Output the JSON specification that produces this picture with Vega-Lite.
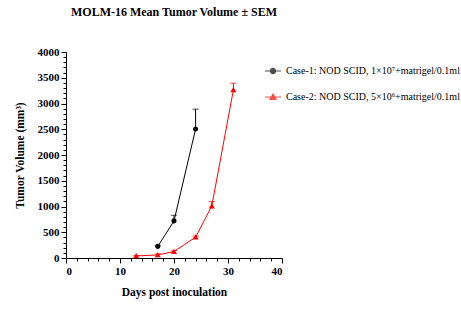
{
  "$schema": "https://vega.github.io/schema/vega-lite/v6.json",
  "autosize": "none",
  "width": 216,
  "height": 206,
  "padding": {"left": 66, "top": 52, "right": 179, "bottom": 65},
  "background": "white",
  "config": {
    "view": {"stroke": null},
    "font": "Liberation Serif",
    "axis": {"grid": false, "domainColor": "black", "tickColor": "black", "labelColor": "black", "titleColor": "black", "labelFont": "Liberation Serif", "titleFont": "Liberation Serif", "labelFontWeight": "bold", "titleFontWeight": "bold", "labelFontSize": 11, "titleFontSize": 11.5, "domainWidth": 1, "tickWidth": 1, "labelOverlap": false}
  },
  "title": {"text": "MOLM-16 Mean Tumor Volume ± SEM", "font": "Liberation Serif", "fontSize": 12, "fontWeight": "bold", "color": "black", "anchor": "middle", "offset": 27},
  "data": {"values": [
    {"series": "Case-1: NOD SCID, 1×10⁷+matrigel/0.1ml", "day": 17, "mean": 225, "upper": 245},
    {"series": "Case-1: NOD SCID, 1×10⁷+matrigel/0.1ml", "day": 20, "mean": 720, "upper": 830},
    {"series": "Case-1: NOD SCID, 1×10⁷+matrigel/0.1ml", "day": 24, "mean": 2505, "upper": 2890},
    {"series": "Case-2: NOD SCID, 5×10⁶+matrigel/0.1ml", "day": 13, "mean": 40, "upper": 50},
    {"series": "Case-2: NOD SCID, 5×10⁶+matrigel/0.1ml", "day": 17, "mean": 60, "upper": 80},
    {"series": "Case-2: NOD SCID, 5×10⁶+matrigel/0.1ml", "day": 20, "mean": 125, "upper": 140},
    {"series": "Case-2: NOD SCID, 5×10⁶+matrigel/0.1ml", "day": 24, "mean": 405, "upper": 425},
    {"series": "Case-2: NOD SCID, 5×10⁶+matrigel/0.1ml", "day": 27, "mean": 1010, "upper": 1095},
    {"series": "Case-2: NOD SCID, 5×10⁶+matrigel/0.1ml", "day": 31, "mean": 3265, "upper": 3395}
  ]},
  "encoding": {
    "x": {"field": "day", "type": "quantitative", "scale": {"domain": [0, 40], "nice": false},
      "axis": {"title": "Days post inoculation", "values": [0,2,4,6,8,10,12,14,16,18,20,22,24,26,28,30,32,34,36,38,40],
        "labelExpr": "datum.value % 10 === 0 ? datum.label : ''",
        "tickSize": {"condition": {"test": "datum.value % 10 === 0", "value": 5}, "value": 3},
        "labelPadding": 2, "titlePadding": 10}},
    "y": {"field": "mean", "type": "quantitative", "scale": {"domain": [0, 4000], "nice": false},
      "axis": {"title": "Tumor Volume (mm³)", "values": [0,100,200,300,400,500,600,700,800,900,1000,1100,1200,1300,1400,1500,1600,1700,1800,1900,2000,2100,2200,2300,2400,2500,2600,2700,2800,2900,3000,3100,3200,3300,3400,3500,3600,3700,3800,3900,4000],
        "format": "d",
        "labelExpr": "datum.value % 500 === 0 ? datum.label : ''",
        "tickSize": {"condition": {"test": "datum.value % 500 === 0", "value": 5}, "value": 3},
        "labelPadding": 2, "titlePadding": 12}},
    "color": {"field": "series", "type": "nominal",
      "scale": {"domain": ["Case-1: NOD SCID, 1×10⁷+matrigel/0.1ml", "Case-2: NOD SCID, 5×10⁶+matrigel/0.1ml"], "range": ["black", "#ff0000"]},
      "legend": {"title": null, "orient": "none", "legendX": 198, "legendY": 10, "padding": 0,
            "symbolSize": 256, "symbolStrokeWidth": 1.2, "rowPadding": 12, "labelOffset": 4,
            "labelFont": "Liberation Serif", "labelFontSize": 10, "labelColor": "black", "labelLimit": 300}}
  },
  "layer": [
    {
      "mark": {"type": "rule", "strokeWidth": 1},
      "encoding": {
        "y2": {"field": "upper"}
      }
    },
    {
      "mark": {"type": "tick", "orient": "horizontal", "size": 6, "thickness": 1},
      "encoding": {
        "y": {"field": "upper", "type": "quantitative",
          "axis": {"title": "Tumor Volume (mm³)", "values": [0,100,200,300,400,500,600,700,800,900,1000,1100,1200,1300,1400,1500,1600,1700,1800,1900,2000,2100,2200,2300,2400,2500,2600,2700,2800,2900,3000,3100,3200,3300,3400,3500,3600,3700,3800,3900,4000],
            "format": "d",
            "labelExpr": "datum.value % 500 === 0 ? datum.label : ''",
            "tickSize": {"condition": {"test": "datum.value % 500 === 0", "value": 5}, "value": 3},
            "labelPadding": 2, "titlePadding": 12}}
      }
    },
    {
      "mark": {"type": "line", "strokeWidth": 1}
    },
    {
      "mark": {"type": "point", "filled": true, "opacity": 1, "size": 256, "strokeWidth": 0},
      "encoding": {
        "shape": {"field": "series", "type": "nominal",
          "scale": {"domain": ["Case-1: NOD SCID, 1×10⁷+matrigel/0.1ml", "Case-2: NOD SCID, 5×10⁶+matrigel/0.1ml"],
            "range": ["M-1,0H1M0.32,0A0.32,0.32,0,1,1,-0.32,0A0.32,0.32,0,1,1,0.32,0Z", "M-1,0H1M0,-0.36L0.38,0.3L-0.38,0.3Z"]},
          "legend": {"title": null, "orient": "none", "legendX": 198, "legendY": 10, "padding": 0,
            "symbolSize": 256, "symbolStrokeWidth": 1.2, "rowPadding": 12, "labelOffset": 4,
            "labelFont": "Liberation Serif", "labelFontSize": 10, "labelColor": "black", "labelLimit": 300,
            "encode": {"symbols": {"update": {"stroke": {"scale": "color", "field": "value"}, "fill": {"scale": "color", "field": "value"}, "fillOpacity": {"value": 1}, "strokeOpacity": {"value": 1}}}}}}
      }
    }
  ]
}
